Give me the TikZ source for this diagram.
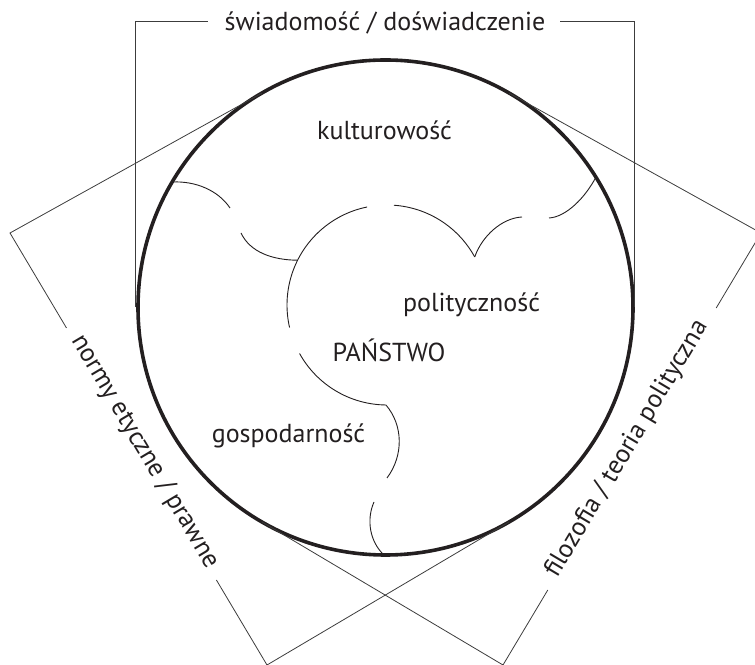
\documentclass[tikz,border=0pt]{standalone}
\usepackage{fontspec}
\setmainfont{PT Sans}
\usetikzlibrary{calc}
\definecolor{ink}{RGB}{35,31,32}
\definecolor{rule}{RGB}{60,60,60}
\begin{document}
\begin{tikzpicture}[x=1pt,y=1pt,
  bracketline/.style={line width=0.8pt, draw=rule},
  cloudline/.style={line width=0.9pt, draw=ink},
  bigcircle/.style={line width=3.6pt, draw=ink},
  lbl/.style={text=ink, inner sep=0pt, font=\fontsize{26}{30}\selectfont},
]
\useasboundingbox (0,0) rectangle (755,664);
\clip (0,0) rectangle (755,664);

% ---------- main circle
\coordinate (C) at (385.5,356.5);
\draw[bigcircle] (C) circle[radius=247.5];

% ---------- top bracket
\coordinate (TL) at (135.5,642.5);
\coordinate (TR) at (634.5,642.5);
\coordinate (TLb) at (135.5,356.5);
\coordinate (TRb) at (634.5,356.5);
\coordinate (TgA) at (208,642.5);
\coordinate (TgB) at (560,642.5);
\node[lbl, anchor=base] (toplbl) at (385,633.3) {świadomość / doświadczenie};
\draw[bracketline] (TLb) -- (TL) -- (TgA);
\draw[bracketline] (TgB) -- (TR) -- (TRb);

% ---------- left bracket
\coordinate (L1) at (10,431);
\coordinate (L2) at (267,-1);
\coordinate (LT) at (261.75,570.8);
\coordinate (LB) at (509.25,142.2);
\coordinate (LgA) at (66.5,336);
\coordinate (LgB) at (216.4,84);
\node[lbl, anchor=mid, rotate=-59.3] (leftlbl) at (141.5,210) {normy etyczne / prawne};
\draw[bracketline] (LT) -- (L1) -- (LgA);
\draw[bracketline] (LgB) -- (L2) -- (LB);

% ---------- right bracket
\coordinate (R1) at (761,431);
\coordinate (R2) at (503,-1);
\coordinate (RT) at (509.25,570.8);
\coordinate (RB) at (261.75,142.2);
\coordinate (RgA) at (716.2,356);
\coordinate (RgB) at (547.8,74);
\node[lbl, anchor=mid, rotate=59.2] (rightlbl) at (631,213) {filozofia / teoria polityczna};
\draw[bracketline] (RT) -- (R1) -- (RgA);
\draw[bracketline] (RgB) -- (R2) -- (RB);

% ---------- inner division lines
\coordinate (cc) at (387,359);
\coordinate (cusp) at ($(cc)+(28.7:100)$);
\coordinate (junc) at ($(cc)+(153.4:100)$);
\coordinate (fend) at ($(cc)+(269.4:100)$);
% central circle pieces
\draw[cloudline] (cusp) arc[start angle=28.7, end angle=86, radius=100];
\draw[cloudline] ($(cc)+(101.5:100)$) arc[start angle=101.5, end angle=193, radius=100];
\draw[cloudline] ($(cc)+(209:100)$) arc[start angle=209, end angle=269.4, radius=100];
% lobes
\draw[cloudline] (173,482) .. controls (195,483) and (218,474) .. (230,456);
\draw[cloudline] (241,431) .. controls (250,412) and (272,404) .. (junc);
\draw[cloudline] (cusp) .. controls (482,428) and (502,446) .. (522,447);
\draw[cloudline] (549,446) .. controls (566,447) and (585,466) .. (596,487);
\draw[cloudline] (fend) .. controls (403,239) and (404,209) .. (387,186);
\draw[cloudline] (374,162) .. controls (366,144) and (370,122) .. (384,109);

% ---------- region labels
\node[lbl, anchor=base] (kult) at (384.5,524.7) {kulturowość};
\node[lbl, anchor=base] (polit) at (471.5,352.3) {polityczność};
\node[lbl, anchor=base] (panstwo) at (389,302.3) {PAŃSTWO};
\node[lbl, anchor=base] (gosp) at (288.5,221) {gospodarność};
\end{tikzpicture}
\end{document}
